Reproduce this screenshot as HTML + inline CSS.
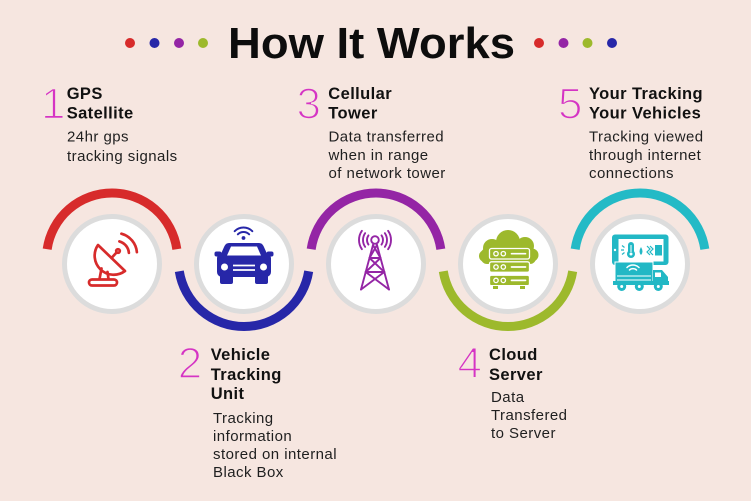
<!DOCTYPE html>
<html>
<head>
<meta charset="utf-8">
<style>
  html,body{margin:0;padding:0;background:#f6e6e0;}
  svg{display:block;}
  text{font-family:"Liberation Sans",Arial,sans-serif;}
  .t{font-size:16.5px;font-weight:bold;fill:#111;letter-spacing:0.4px;}
  .d{font-size:15px;fill:#1f1f1f;letter-spacing:0.45px;}
  .n{font-size:44px;fill:#d534c4;stroke:#f6e6e0;stroke-width:1.6px;}
</style>
</head>
<body>
<svg width="751" height="501" viewBox="0 0 751 501" xmlns="http://www.w3.org/2000/svg">
  <rect x="0" y="0" width="751" height="501" fill="#f6e6e0"/>

  <!-- Title -->
  <text x="371.5" y="58" text-anchor="middle" font-size="44" font-weight="bold" fill="#0d0d0d" textLength="287" lengthAdjust="spacingAndGlyphs">How It Works</text>
  <circle cx="130" cy="43" r="5" fill="#d72b2b"/>
  <circle cx="154.5" cy="43" r="5" fill="#2727a8"/>
  <circle cx="179" cy="43" r="5" fill="#9425a5"/>
  <circle cx="203" cy="43" r="5" fill="#9db92c"/>
  <circle cx="539" cy="43" r="5" fill="#d72b2b"/>
  <circle cx="563.5" cy="43" r="5" fill="#9425a5"/>
  <circle cx="587.5" cy="43" r="5" fill="#9db92c"/>
  <circle cx="612" cy="43" r="5" fill="#2727a8"/>

  <!-- Step 1 -->
  <text class="n" x="41" y="118.3">1</text>
  <text class="t" x="66.7" y="99">GPS</text>
  <text class="t" x="66.7" y="118.3">Satellite</text>
  <text class="d" x="67" y="141.7">24hr gps</text>
  <text class="d" x="67" y="161">tracking signals</text>

  <!-- Step 3 -->
  <text class="n" x="296.5" y="118.3">3</text>
  <text class="t" x="328.3" y="99">Cellular</text>
  <text class="t" x="328.3" y="118.3">Tower</text>
  <text class="d" x="328.5" y="141.7">Data transferred</text>
  <text class="d" x="328.5" y="160">when in range</text>
  <text class="d" x="328.5" y="178">of network tower</text>

  <!-- Step 5 -->
  <text class="n" x="558" y="118.3">5</text>
  <text class="t" x="589" y="99">Your Tracking</text>
  <text class="t" x="589" y="118.3">Your Vehicles</text>
  <text class="d" x="589" y="141.7">Tracking viewed</text>
  <text class="d" x="589" y="160">through internet</text>
  <text class="d" x="589" y="178">connections</text>

  <!-- Step 2 -->
  <text class="n" x="177.7" y="378">2</text>
  <text class="t" x="210.7" y="360">Vehicle</text>
  <text class="t" x="210.7" y="380">Tracking</text>
  <text class="t" x="210.7" y="399">Unit</text>
  <text class="d" x="213" y="423">Tracking</text>
  <text class="d" x="213" y="441">information</text>
  <text class="d" x="213" y="459">stored on internal</text>
  <text class="d" x="213" y="477">Black Box</text>

  <!-- Step 4 -->
  <text class="n" x="457.5" y="378">4</text>
  <text class="t" x="489" y="360">Cloud</text>
  <text class="t" x="489" y="380">Server</text>
  <text class="d" x="491" y="402">Data</text>
  <text class="d" x="491" y="420">Transfered</text>
  <text class="d" x="491" y="438">to Server</text>

  <!-- Arcs -->
  <g fill="none" stroke-width="9">
    <path d="M47.17,249.2 A65.5,65.5 0 0,1 176.83,249.2" stroke="#d72b2b"/>
    <path d="M179.3,271.25 A65.5,65.5 0 0,0 308.7,271.25" stroke="#2727a8"/>
    <path d="M311.17,249.2 A65.5,65.5 0 0,1 440.83,249.2" stroke="#9425a5"/>
    <path d="M443.3,271.25 A65.5,65.5 0 0,0 572.7,271.25" stroke="#9db92c"/>
    <path d="M575.17,249.2 A65.5,65.5 0 0,1 704.83,249.2" stroke="#23bac6"/>
  </g>

  <!-- Circles -->
  <g fill="#ffffff" stroke="#dcdcdc" stroke-width="5">
    <circle cx="112" cy="264" r="47.5"/>
    <circle cx="244" cy="264" r="47.5"/>
    <circle cx="376" cy="264" r="47.5"/>
    <circle cx="508" cy="264" r="47.5"/>
    <circle cx="640" cy="264" r="47.5"/>
  </g>

  <!-- Icon 1: satellite dish -->
  <g fill="none" stroke="#d72b2b" stroke-width="2.7" stroke-linecap="round" stroke-linejoin="round">
    <path d="M98,245 A19,19 0 0,0 125,271 Z"/>
    <path d="M111.5,258 L116.5,252.5"/>
    <circle cx="118" cy="251" r="1.8"/>
    <path d="M101.5,268.5 L99.5,279 M107.5,272 L108.5,279"/>
    <rect x="89" y="279.5" width="28" height="6" rx="3"/>
    <path d="M119.4,241.4 A13,13 0 0,1 128.9,252.9"/>
    <path d="M121.4,233.7 A21,21 0 0,1 136.9,252.2"/>
  </g>

  <!-- Icon 2: car -->
  <g fill="#2727a8">
    <g fill="none" stroke="#2727a8" stroke-width="2" stroke-linecap="round">
      <path d="M237.84,234.34 A8,8 0 0,1 249.16,234.34"/>
      <path d="M234.66,231.16 A12.5,12.5 0 0,1 252.34,231.16"/>
    </g>
    <circle cx="243.5" cy="238" r="1.9"/>
    <path d="M229,243 L259,243 Q262,243 263.5,246 L268,256 L220,256 L224.5,246 Q226,243 229,243 Z"/>
    <rect x="217" y="253" width="54" height="24" rx="5"/>
    <rect x="214.5" y="251.5" width="7" height="5" rx="2"/>
    <rect x="266.5" y="251.5" width="7" height="5" rx="2"/>
    <rect x="220" y="273" width="13" height="11" rx="2"/>
    <rect x="255" y="273" width="13" height="11" rx="2"/>
    <path d="M231,246.5 L257,246.5 L261,255.5 L227,255.5 Z" fill="#ffffff"/>
    <circle cx="224.5" cy="267" r="3.5" fill="#ffffff"/>
    <circle cx="263.5" cy="267" r="3.5" fill="#ffffff"/>
    <path d="M233,265.5 L255,265.5 M233,270 L255,270" stroke="#ffffff" stroke-width="1.8" fill="none"/>
  </g>

  <!-- Icon 3: tower -->
  <g fill="none" stroke="#9425a5" stroke-width="1.9" stroke-linecap="round" stroke-linejoin="round">
    <circle cx="375" cy="240" r="3.8"/>
    <path d="M368.45,235.41 A8,8 0 0,0 368.45,244.59"/>
    <path d="M381.55,235.41 A8,8 0 0,1 381.55,244.59"/>
    <path d="M365.17,233.12 A12,12 0 0,0 365.17,246.88"/>
    <path d="M384.83,233.12 A12,12 0 0,1 384.83,246.88"/>
    <path d="M361.9,230.82 A16,16 0 0,0 361.9,249.18"/>
    <path d="M388.1,230.82 A16,16 0 0,1 388.1,249.18"/>
    <path d="M373,245 L361,289.5 M377,245 L389,289.5"/>
    <path d="M369.5,258 L380.5,258 M365.7,272 L384.3,272"/>
    <path d="M369.5,258 L384.3,272 M380.5,258 L365.7,272"/>
    <path d="M365.7,272 L389,289.5 M384.3,272 L361,289.5"/>
    <path d="M373,245 L380.5,258 M377,245 L369.5,258"/>
  </g>

  <!-- Icon 4: cloud server -->
  <g fill="#9db92c">
    <circle cx="508" cy="242" r="12"/>
    <circle cx="492" cy="248" r="9"/>
    <circle cx="525" cy="246" r="9"/>
    <circle cx="485" cy="256" r="6"/>
    <circle cx="532" cy="255" r="6.5"/>
    <rect x="481" y="248" width="55" height="16" rx="6"/>
    <g stroke="#ffffff" stroke-width="1.3">
      <rect x="489.5" y="248.5" width="40" height="10.5" rx="2"/>
      <rect x="489.5" y="261.8" width="40" height="10.5" rx="2"/>
      <rect x="489.5" y="275.2" width="40" height="10.5" rx="2"/>
    </g>
    <g fill="none" stroke="#ffffff" stroke-width="1.3">
      <circle cx="496" cy="253.7" r="2.2"/>
      <circle cx="503.3" cy="253.7" r="2.2"/>
      <circle cx="496" cy="267" r="2.2"/>
      <circle cx="503.3" cy="267" r="2.2"/>
      <circle cx="496" cy="280.4" r="2.2"/>
      <circle cx="503.3" cy="280.4" r="2.2"/>
      <path d="M511.5,253.7 L525.5,253.7 M511.5,267 L525.5,267 M511.5,280.4 L525.5,280.4" stroke-width="1.7" stroke-linecap="round"/>
    </g>
    <rect x="493" y="286" width="5" height="3"/>
    <rect x="520" y="286" width="5" height="3"/>
  </g>

  <!-- Icon 5: tablet + truck -->
  <g fill="#22b8c5">
    <rect x="612" y="234.5" width="56.5" height="30.5" rx="3"/>
    <rect x="618.5" y="239" width="45" height="22.5" fill="#ffffff"/>
    <circle cx="615" cy="250" r="1.2" fill="#ffffff"/>
    <g stroke="#22b8c5" stroke-width="1.2">
      <path d="M621,250 L624,250 M622,245.5 L624.5,247.5 M622,254.5 L624.5,252.5"/>
    </g>
    <rect x="628" y="242" width="6" height="12" rx="3"/>
    <circle cx="631" cy="254" r="4"/>
    <circle cx="631" cy="254" r="1.5" fill="#ffffff"/>
    <path d="M631,245 L631,252" stroke="#ffffff" stroke-width="1"/>
    <path d="M641,247 Q638,252 641,255 Q644,252 641,247 Z"/>
    <path d="M647,246 L650,249 L647,252 L650,255 M650,246 L653,249 L650,252 L653,255" fill="none" stroke="#22b8c5" stroke-width="1.2"/>
    <rect x="655" y="245" width="7" height="10.5"/>
    <!-- truck -->
    <rect x="615" y="262" width="38" height="20" stroke="#ffffff" stroke-width="1"/>
    <path d="M653,270 L662,270 L668,277 L668,283 L653,283 Z"/>
    <rect x="655" y="272.5" width="6" height="4.5" fill="#ffffff"/>
    <path d="M617,276 L651,276 M617,280 L651,280" stroke="#ffffff" stroke-width="1"/>
    <g fill="none" stroke="#ffffff" stroke-width="1.5" stroke-linecap="round">
      <path d="M629.5,270 A5,5 0 0,1 636.5,270"/>
      <path d="M627,267.5 A8.5,8.5 0 0,1 639,267.5"/>
    </g>
    <rect x="613" y="281" width="56" height="4"/>
    <circle cx="621.7" cy="286.5" r="4.5"/>
    <circle cx="639.3" cy="286.5" r="4.5"/>
    <circle cx="658.3" cy="286.5" r="4.5"/>
    <circle cx="621.7" cy="286.5" r="1.5" fill="#ffffff"/>
    <circle cx="639.3" cy="286.5" r="1.5" fill="#ffffff"/>
    <circle cx="658.3" cy="286.5" r="1.5" fill="#ffffff"/>
  </g>
</svg>
</body>
</html>
